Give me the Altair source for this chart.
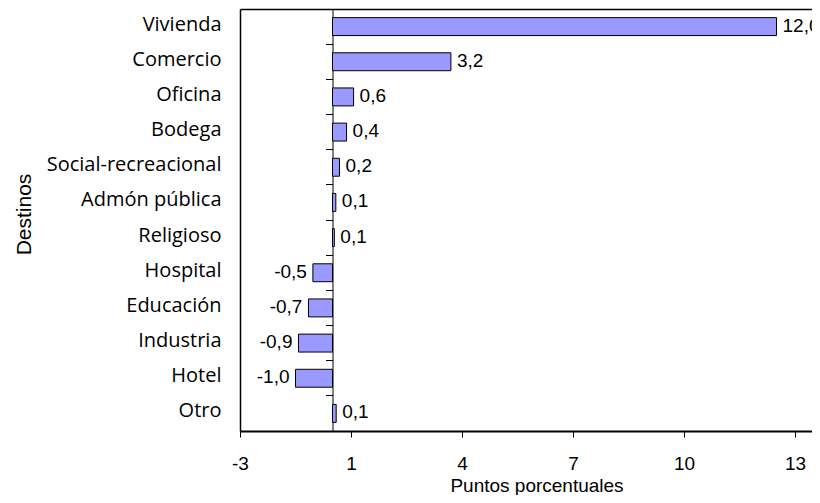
import altair as alt
import pandas as pd

# ---- data ----
destinos = ["Vivienda", "Comercio", "Oficina", "Bodega", "Social-recreacional",
            "Admón pública", "Religioso", "Hospital", "Educación", "Industria",
            "Hotel", "Otro"]
valores = [12.0, 3.2, 0.57, 0.38, 0.19, 0.09, 0.05, -0.53, -0.65, -0.92, -1.0, 0.1]
etiquetas = ["12,0", "3,2", "0,6", "0,4", "0,2", "0,1", "0,1",
             "-0,5", "-0,7", "-0,9", "-1,0", "0,1"]
tick_values = [-2.5, 0.5, 3.5, 6.5, 9.5, 12.5]
tick_labels = ["-3", "1", "4", "7", "10", "13"]
x_min = -2.5
px_per_unit = 37.0  # scale of the reference axis

df = pd.DataFrame({"destino": destinos, "valor": valores, "etiqueta": etiquetas})

PAD_L, PAD_T, PAD_B = 232, 1, 64
W, H = 804 - PAD_L, 422
x_domain = [x_min, x_min + W / px_per_unit]   # plot runs to the visible edge
zero_offset = -(0 - x_min) * px_per_unit
pad_inner = 0.49
band_pos = 1 + (pad_inner / 2) / (1 - pad_inner)

label_expr = " : ".join(
    f"datum.value == {v} ? '{l}'" for v, l in zip(tick_values, tick_labels)
) + " : ''"

x_scale = alt.Scale(domain=x_domain, nice=False, zero=False)
y_scale = alt.Scale(paddingInner=pad_inner, paddingOuter=pad_inner / 2)

x_axis = alt.Axis(
    values=tick_values, labelExpr=label_expr, title="Puntos porcentuales",
    tickSize=6, tickColor="black", domainColor="black", domainWidth=2,
    labelFont="Liberation Sans", labelFontSize=19, labelColor="black",
    labelPadding=17.5, labelFlush=False, labelOverlap=False,
    titleFont="Liberation Sans", titleFontSize=19, titleFontWeight="normal",
    titleColor="black", titleX=296.5, titleY=60, titleBaseline="alphabetic",
    grid=False,
)
y_axis = alt.Axis(
    title="Destinos", offset=zero_offset, tickSize=7, bandPosition=band_pos,
    tickColor="black", domainColor="black", domainWidth=1,
    labelFont="Open Sans", labelFontSize=20, labelColor="black",
    labelPadding=104.5, labelOffset=-2, labelLimit=400,
    titleFont="Liberation Sans", titleFontSize=21, titleFontWeight="normal",
    titleColor="black", titleAngle=270, titleX=-302.5, titleY=205,
    titleBaseline="alphabetic", titleAlign="center", grid=False,
)
# frame lines (top and left edges of the plot area)
x_top_axis = alt.Axis(orient="top", labels=False, ticks=False, title=None,
                      domainColor="black", domainWidth=1.5, grid=False)
y_left_axis = alt.Axis(orient="left", labels=False, ticks=False, title=None,
                       domainColor="black", domainWidth=1.5, grid=False)

base = alt.Chart(df)

bars = base.mark_bar(fill="#9999FF", stroke="black", strokeWidth=1).encode(
    x=alt.X("valor:Q", scale=x_scale, axis=x_axis),
    x2=alt.datum(0),
    y=alt.Y("destino:N", sort=destinos, scale=y_scale, axis=y_axis),
)

pos_labels = base.transform_filter("datum.valor >= 0").mark_text(
    align="left", baseline="middle", dx=6, dy=-1,
    font="Liberation Sans", fontSize=19, color="black",
).encode(
    x=alt.X("valor:Q", scale=x_scale, axis=x_top_axis),
    y=alt.Y("destino:N", sort=destinos, scale=y_scale, axis=y_left_axis),
    text="etiqueta:N",
)

neg_labels = base.transform_filter("datum.valor < 0").mark_text(
    align="right", baseline="middle", dx=-6, dy=-1,
    font="Liberation Sans", fontSize=19, color="black",
).encode(
    x=alt.X("valor:Q", scale=x_scale, axis=None),
    y=alt.Y("destino:N", sort=destinos, scale=y_scale, axis=None),
    text="etiqueta:N",
)

chart = alt.layer(bars, pos_labels, neg_labels).resolve_axis(
    x="independent", y="independent"
).properties(
    width=W, height=H,
    autosize=alt.AutoSizeParams(type="none"),
    padding={"left": PAD_L, "top": PAD_T, "right": 0, "bottom": PAD_B},
    background="white",
).configure_view(strokeWidth=0)

chart.save("out.html", embed_options={"renderer": "svg", "actions": False})
